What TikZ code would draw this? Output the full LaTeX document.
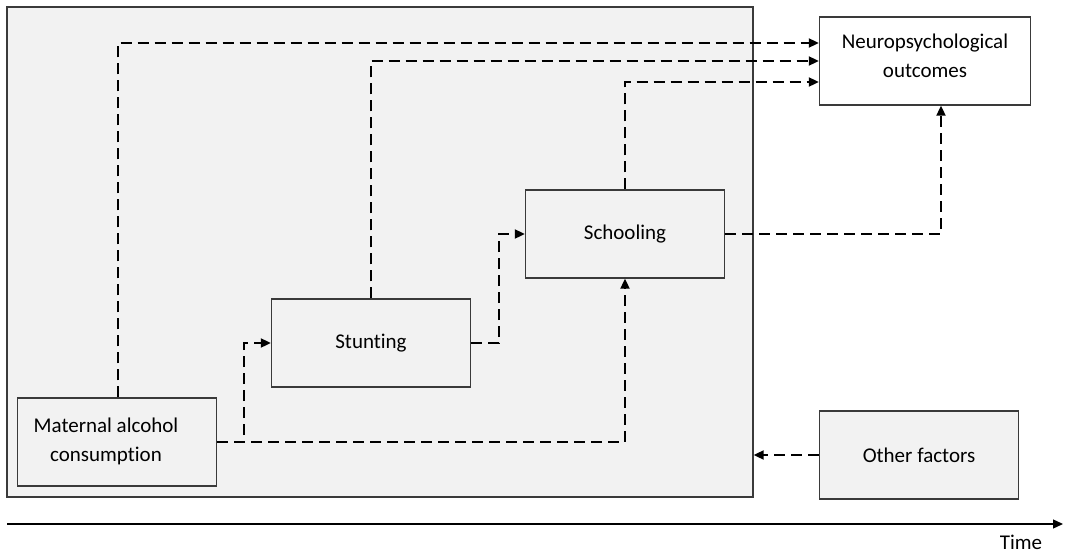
\documentclass[tikz,border=0pt]{standalone}
\usepackage{fontspec}
\setmainfont{Carlito}[Ligatures=NoCommon]
\usetikzlibrary{arrows.meta,calc}
\definecolor{boxgray}{HTML}{F2F2F2}
\definecolor{edgegray}{HTML}{3A3A3A}
\begin{document}
\begin{tikzpicture}[x=1pt,y=-1pt,
  box/.style={draw=edgegray,line width=1.3pt,fill=boxgray,minimum width=199pt,minimum height=88pt,inner sep=0pt,align=center,font=\fontsize{21}{29}\selectfont},
  lbl/.style={align=center,inner sep=0pt,font=\fontsize{21}{29}\selectfont},
  conn/.style={line width=1.8pt,dash pattern=on 11pt off 6pt,-{Triangle[length=10pt,width=9pt]}}]
\useasboundingbox (0,0) rectangle (1066,554);
\node[draw=edgegray,line width=1.3pt,fill=boxgray,minimum width=746pt,minimum height=490pt,inner sep=0pt] (frame) at (380,252) {};
\node[box,fill=white,minimum width=211pt] (neuro) at (925,61) {};
\node[lbl] (neurot) at (925,56) {Neuropsychological\\outcomes};
\node[box] (sch) at (625,234) {Schooling};
\node[box] (stu) at (371,343) {Stunting};
\node[box] (mat) at (117,442) {};
\node[lbl] (matt) at (106,441) {Maternal alcohol\\consumption};
\node[box] (oth) at (919,455) {Other factors};
% connectors
\draw[conn] ([xshift=1pt]mat.north) |- ([yshift=18pt]neuro.west);
\draw[conn] (stu.north) |- (neuro.west);
\draw[conn] (sch.north) |- ([yshift=-21pt]neuro.west);
\draw[conn] (mat.east) -- ++(27,0) |- (stu.west);
\draw[conn] (stu.east) -- ++(28,0) |- (sch.west);
\draw[conn] (mat.east) -| (sch.south);
\draw[conn] (sch.east) -| ([xshift=16pt]neuro.south);
\draw[conn] (oth.west) -- (frame.east |- oth.west);
% time axis
\coordinate (t0) at (7,524);
\coordinate (t1) at (1063,524);
\draw[line width=1.3pt,-{Triangle[length=10pt,width=9pt]}] (t0) -- (t1);
\node[font=\fontsize{21}{25}\selectfont,inner sep=0pt] (time) at (1021,542) {Time};
\end{tikzpicture}
\end{document}
